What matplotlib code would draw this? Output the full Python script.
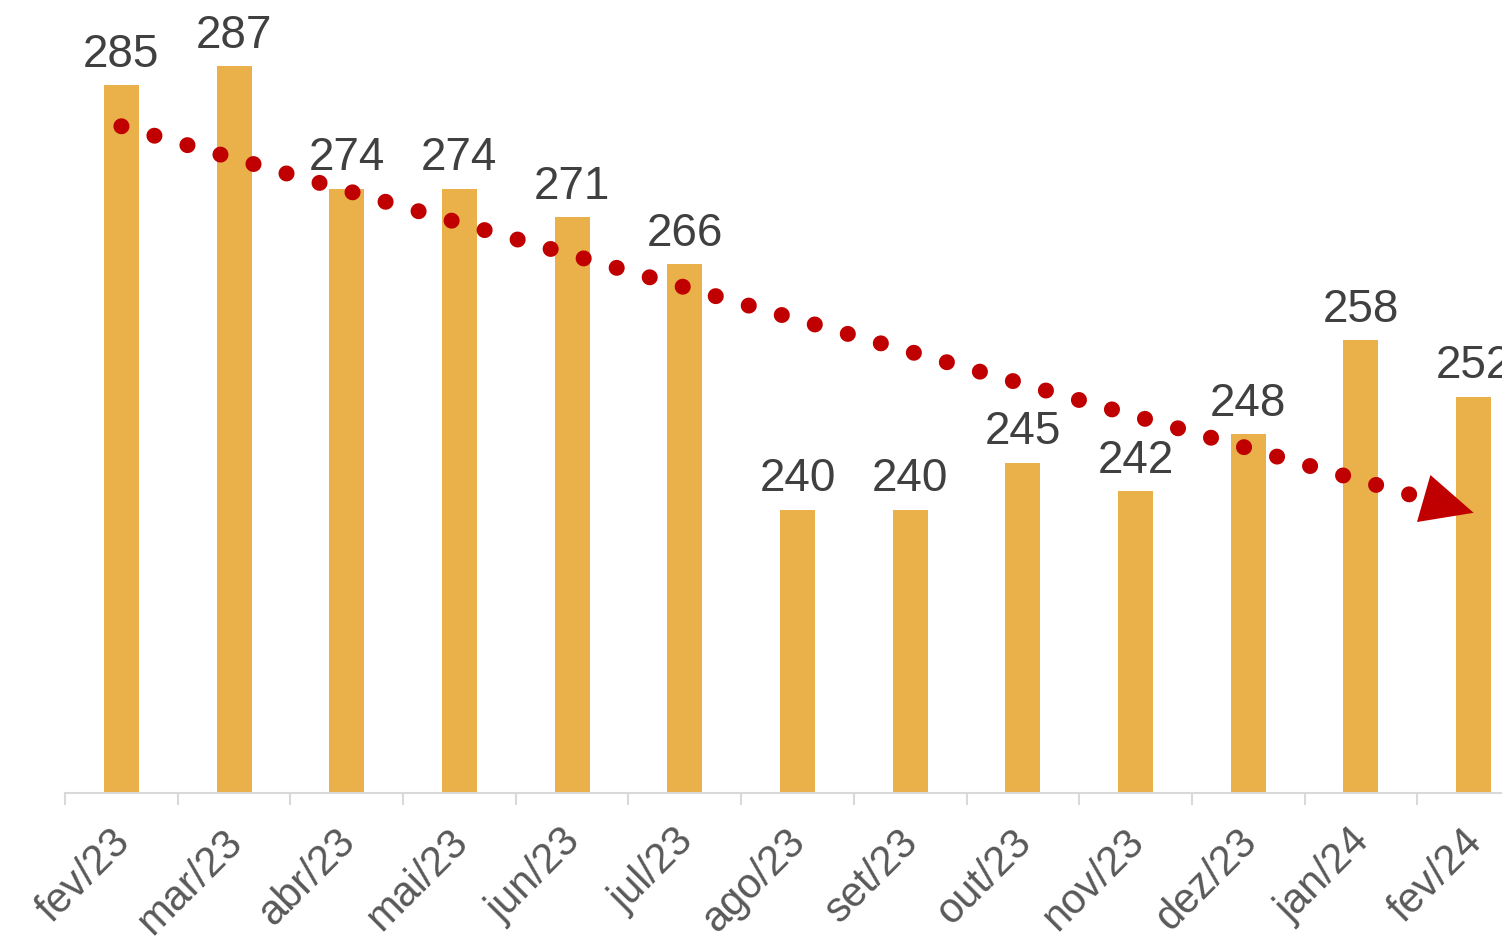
import numpy as np
import matplotlib.pyplot as plt
import matplotlib.transforms as mtransforms

plt.rcParams['font.family'] = ['Liberation Sans', 'DejaVu Sans']

meses = ['fev/23', 'mar/23', 'abr/23', 'mai/23', 'jun/23', 'jul/23', 'ago/23',
         'set/23', 'out/23', 'nov/23', 'dez/23', 'jan/24', 'fev/24']
valores = [285, 287, 274, 274, 271, 266, 240, 240, 245, 242, 248, 258, 252]

cor_barra = '#EAB049'
cor_tend = '#C00000'
cor_eixo = '#D9D9D9'

x = np.arange(len(meses))
y = np.array(valores, dtype=float)

# linha de tendencia (regressao linear)
a, b = np.polyfit(x, y, 1)

fig = plt.figure(figsize=(15.02, 9.39), dpi=100)
ax = fig.add_axes([65/1502, 146/939, 1465/1502, 793/939])

ax.bar(x, y, width=0.31, color=cor_barra, zorder=2)

for xi, v in zip(x, valores):
    ax.annotate(str(v), (xi, v), xytext=(0, 6), textcoords='offset points',
                ha='center', va='bottom', fontsize=33, color='#404040',
                annotation_clip=False)

# tendencia pontilhada + ponta de seta
x_base = 11.54
xt = np.linspace(0, x_base, 200)
ax.plot(xt, a*xt + b, color=cor_tend, lw=11.5, linestyle=(0, (0.01, 2.14)),
        dash_capstyle='round', zorder=3)
ax.annotate('', xy=(12, a*12 + b), xytext=(x_base, a*x_base + b),
            arrowprops=dict(arrowstyle='-|>,head_length=1.87,head_width=0.88',
                            mutation_scale=20, color=cor_tend, lw=0,
                            shrinkA=0, shrinkB=0), zorder=4)

ax.set_xlim(-0.5, 12.5)
ax.set_ylim(210, 294.0)

for s in ['left', 'top', 'right']:
    ax.spines[s].set_visible(False)
ax.spines['bottom'].set_color(cor_eixo)
ax.spines['bottom'].set_linewidth(1.5)

ax.set_yticks([])
ax.set_xticks(x)
ax.set_xticklabels(meses, rotation=45, ha='right', va='top',
                   rotation_mode='anchor', fontsize=30, color='#595959')
ax.tick_params(axis='x', which='major', length=0, pad=14)
ax.set_xticks(np.arange(-0.5, 13, 1), minor=True)
ax.tick_params(axis='x', which='minor', length=8.5, width=1.5, color=cor_eixo)

# desloca os rotulos um pouco para baixo/esquerda
desloc = mtransforms.ScaledTranslation(-0.12, -0.095, fig.dpi_scale_trans)
for lbl in ax.get_xticklabels():
    lbl.set_transform(lbl.get_transform() + desloc)

fig.savefig('out.png', dpi=100)
